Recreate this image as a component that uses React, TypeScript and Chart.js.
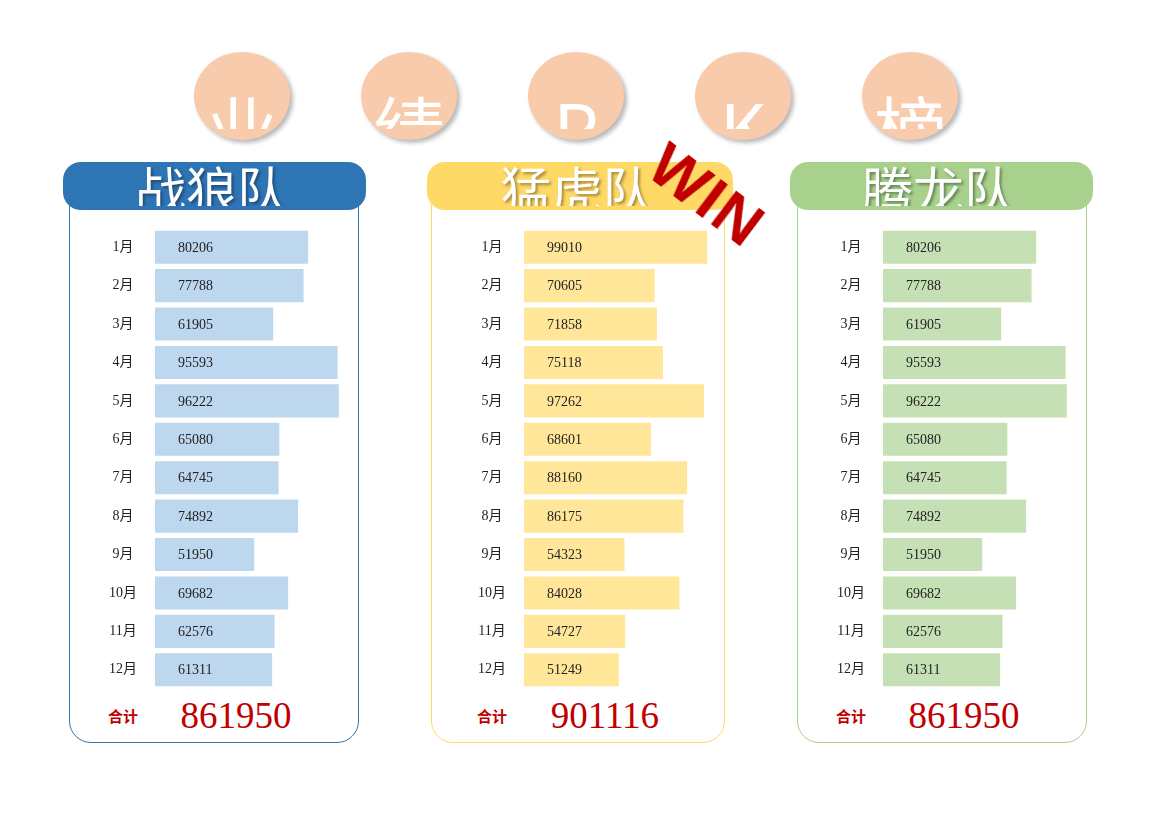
import React, { useEffect, useRef } from "react";
import { Chart, registerables } from "chart.js";

Chart.register(...registerables);

// ---------------- data ----------------
const months = ["1月", "2月", "3月", "4月", "5月", "6月", "7月", "8月", "9月", "10月", "11月", "12月"];
const wolfValues = [80206, 77788, 61905, 95593, 96222, 65080, 64745, 74892, 51950, 69682, 62576, 61311];
const tigerValues = [99010, 70605, 71858, 75118, 97262, 68601, 88160, 86175, 54323, 84028, 54727, 51249];
const dragonValues = [80206, 77788, 61905, 95593, 96222, 65080, 64745, 74892, 51950, 69682, 62576, 61311];
const teamNames = ["战狼队", "猛虎队", "腾龙队"];
const titleChars = ["业", "绩", "P", "K", "榜"];
const totalLabel = "合计";
const winText = "WIN";
const axisMax = 100000;

// ---------------- layout / style ----------------
const AXIS_W = 70;
const CJK = '"Noto Sans CJK SC", "Noto Sans", sans-serif';
const SERIF = '"Liberation Serif", "Noto Sans CJK SC", serif';
const RED = "#C00000";

const teams = [
  { name: teamNames[0], values: wolfValues, head: "#2E75B6", bar: "#BDD7EE", shadow: "rgba(20,40,70,0.55)", hx: 63, hw: 303, px: 69, pw: 291, barX: 155, plotW: 191 },
  { name: teamNames[1], values: tigerValues, head: "#FFD966", bar: "#FFE699", shadow: "rgba(90,70,20,0.55)", hx: 427, hw: 306, px: 431, pw: 295, barX: 524, plotW: 185 },
  { name: teamNames[2], values: dragonValues, head: "#A9D18E", bar: "#C5E0B4", shadow: "rgba(40,70,30,0.55)", hx: 790, hw: 303, px: 797, pw: 291, barX: 883, plotW: 191 },
];

function BarChart({ values, color, barX, plotW }: { values: number[]; color: string; barX: number; plotW: number }) {
  const ref = useRef<HTMLCanvasElement | null>(null);
  useEffect(() => {
    if (!ref.current) return;
    const valueLabels = {
      id: "valueLabels",
      afterDatasetsDraw(chart: any) {
        const { ctx } = chart;
        const meta = chart.getDatasetMeta(0);
        const x0 = chart.scales.x.getPixelForValue(0) + 23;
        ctx.save();
        ctx.font = `14px ${SERIF}`;
        ctx.fillStyle = "#222";
        ctx.textAlign = "left";
        ctx.textBaseline = "middle";
        meta.data.forEach((el: any, i: number) => {
          ctx.fillText(String(values[i]), x0, el.y + 1);
        });
        ctx.restore();
      },
    };
    const chart = new Chart(ref.current, {
      type: "bar",
      data: {
        labels: months,
        datasets: [
          {
            data: values,
            backgroundColor: color,
            borderWidth: 0,
            barPercentage: 0.86,
            categoryPercentage: 1,
          },
        ],
      },
      options: {
        indexAxis: "y",
        responsive: false,
        animation: false,
        layout: { padding: { top: 4, bottom: 5, left: 0, right: 0 } },
        plugins: { legend: { display: false }, tooltip: { enabled: false } },
        scales: {
          x: { display: false, min: 0, max: axisMax },
          y: {
            grid: { display: false, drawTicks: false },
            border: { display: false },
            ticks: {
              crossAlign: "center",
              padding: 18,
              color: "#222",
              font: { family: SERIF, size: 14 },
            },
            afterFit: (s: any) => {
              s.width = AXIS_W;
              s.paddingTop = 0;
              s.paddingBottom = 0;
            },
          },
        },
      } as any,
      plugins: [valueLabels],
    });
    return () => chart.destroy();
  }, [values, color]);
  const w = AXIS_W + plotW;
  return (
    <canvas
      ref={ref}
      width={w}
      height={470}
      style={{ position: "absolute", left: barX - AXIS_W, top: 224, width: w, height: 470 }}
    />
  );
}

function TeamPanel({ t }: { t: (typeof teams)[number] }) {
  const total = t.values.reduce((a, b) => a + b, 0);
  return (
    <>
      <div
        style={{
          position: "absolute",
          left: t.px,
          top: 185,
          width: t.pw - 3,
          height: 559 - 3,
          border: `1.5px solid ${t.head}`,
          borderRadius: 22,
          background: "#fff",
        }}
      />
      <div
        style={{
          position: "absolute",
          left: t.hx,
          top: 162,
          width: t.hw,
          height: 48,
          background: t.head,
          borderRadius: 18,
          zIndex: 2,
        }}
      >
        <div style={{ position: "absolute", left: 0, top: 0, width: t.hw, height: 44, overflow: "hidden" }}>
          <div
            style={{
              position: "absolute",
              left: -3,
              top: 1,
              width: t.hw,
              textAlign: "center",
              fontFamily: CJK,
              fontSize: 51,
              lineHeight: "51px",
              fontWeight: 400,
              color: "#fff",
              textShadow: `2px 2px 3px ${t.shadow}`,
              whiteSpace: "nowrap",
            }}
          >
            {t.name}
          </div>
        </div>
      </div>
      <BarChart values={t.values} color={t.bar} barX={t.barX} plotW={t.plotW} />
      <div
        style={{
          position: "absolute",
          left: t.barX - 32 - 30,
          top: 706,
          width: 60,
          textAlign: "center",
          fontFamily: CJK,
          fontSize: 15,
          lineHeight: "20px",
          fontWeight: 600,
          color: RED,
        }}
      >
        {totalLabel}
      </div>
      <div
        style={{
          position: "absolute",
          left: t.barX + 81 - 80,
          top: 694,
          width: 160,
          textAlign: "center",
          fontFamily: SERIF,
          fontSize: 37,
          lineHeight: "44px",
          color: RED,
        }}
      >
        {total}
      </div>
    </>
  );
}

export default function App() {
  return (
    <div
      style={{
        position: "fixed",
        left: 0,
        top: 0,
        width: 1170,
        height: 827,
        background: "#fff",
        overflow: "hidden",
      }}
    >
      {titleChars.map((c, i) => {
        const cx = 242 + i * 167;
        return (
          <React.Fragment key={c}>
            <div
              style={{
                position: "absolute",
                left: cx - 48,
                top: 52,
                width: 96,
                height: 88,
                borderRadius: "50%",
                background: "#F8CBAD",
                boxShadow: "3px 3px 4px rgba(0,0,0,0.28)",
              }}
            />
            <div style={{ position: "absolute", left: cx - 48, top: 52, width: 96, height: 77, overflow: "hidden" }}>
              <div
                style={{
                  position: "absolute",
                  left: -20,
                  top: 38,
                  width: 136,
                  textAlign: "center",
                  fontFamily: CJK,
                  fontSize: 72,
                  lineHeight: "72px",
                  color: "#fff",
                  whiteSpace: "nowrap",
                }}
              >
                {c}
              </div>
            </div>
          </React.Fragment>
        );
      })}
      {teams.map((t) => (
        <TeamPanel key={t.name} t={t} />
      ))}
      <div
        style={{
          position: "absolute",
          left: 707 - 100,
          top: 195 - 35,
          width: 200,
          height: 70,
          lineHeight: "70px",
          textAlign: "center",
          fontFamily: '"Liberation Sans", Arial, sans-serif',
          fontWeight: 700,
          fontSize: 62,
          letterSpacing: 2,
          color: RED,
          transform: "rotate(37deg)",
          zIndex: 5,
        }}
      >
        {winText}
      </div>
    </div>
  );
}
